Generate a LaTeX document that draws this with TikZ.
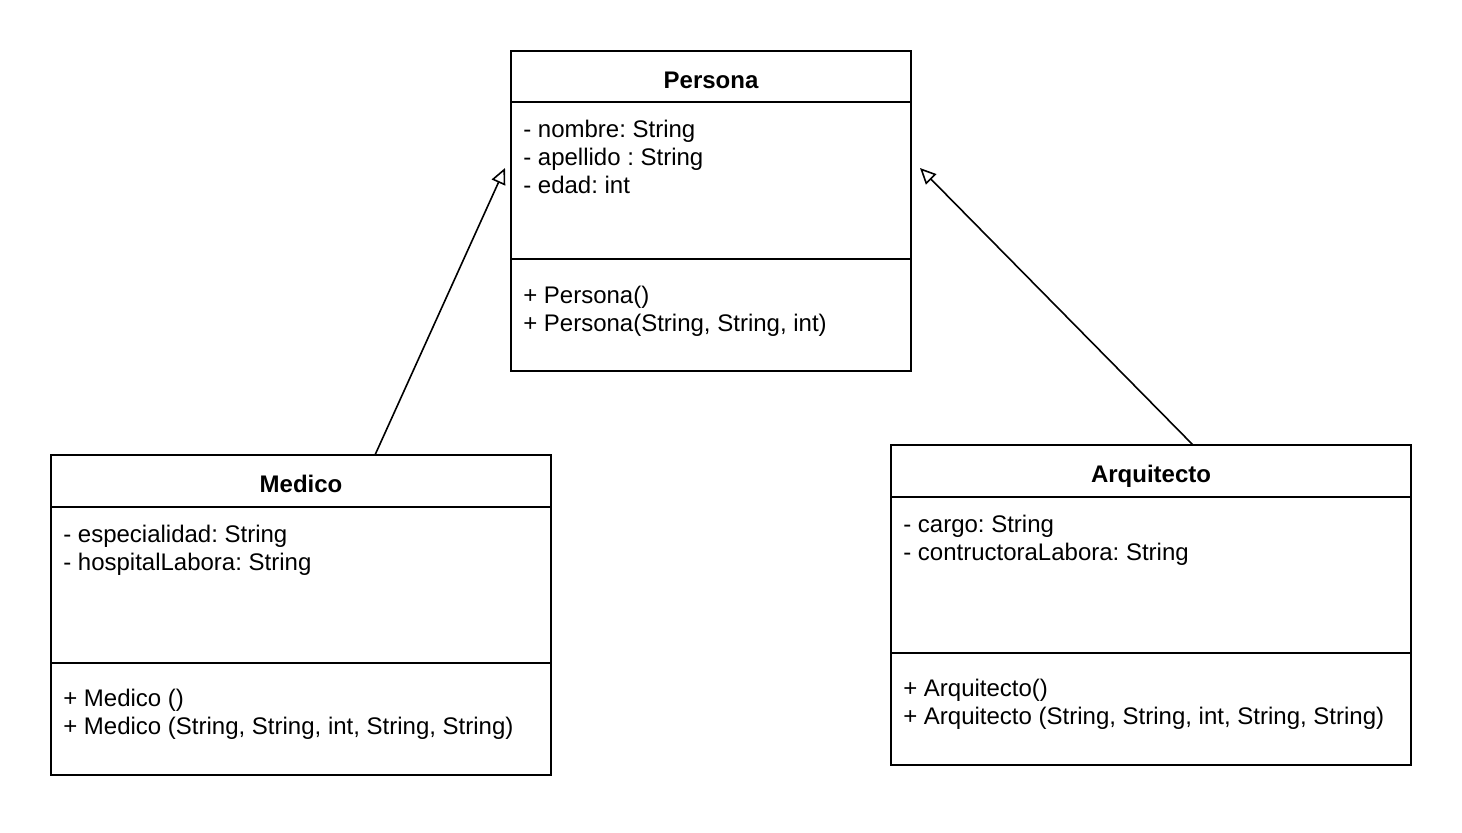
\documentclass[tikz,border=0pt]{standalone}
\usepackage{fontspec}
\setmainfont{Liberation Sans}
\usetikzlibrary{arrows.meta}
\frenchspacing
\begin{document}
\begin{tikzpicture}[x=0.75pt,y=-0.75pt,
  classbox/.style={draw=black, line width=1.4pt, fill=white, inner sep=0pt, outer sep=0pt, anchor=north west},
  sepline/.style={draw=black, line width=1.4pt},
  title/.style={font=\fontsize{18}{21}\selectfont\bfseries, anchor=base, inner sep=0pt},
  member/.style={font=\fontsize{18}{21}\selectfont, anchor=base west, inner sep=0pt},
  inherit/.style={draw=black, line width=1.2pt, -{Triangle[open, length=12pt, width=11pt, line width=1.2pt]}}
]
\useasboundingbox (0,0) rectangle (1462,832);
\fill[white] (0,0) rectangle (1462,832);

% Persona
\node[classbox, minimum width=300pt, minimum height=240pt] (persona) at (511,51) {};
\draw[sepline] (511,102) -- (911,102);
\draw[sepline] (511,259) -- (911,259);
\node[title] (pt) at (711,88.6) {Persona};
\node[member] (pa1) at (523,137.6) {- nombre: String};
\node[member] (pa2) at (523,165.6) {- apellido : String};
\node[member] (pa3) at (523,193.6) {- edad: int};
\node[member] (pm1) at (523,303.6) {+ Persona()};
\node[member] (pm2) at (523,331.6) {+ Persona(String, String, int)};

% Medico
\node[classbox, minimum width=375pt, minimum height=240pt] (medico) at (51,455) {};
\draw[sepline] (51,507) -- (551,507);
\draw[sepline] (51,663) -- (551,663);
\node[title] (mt) at (301,492.6) {Medico};
\node[member] (ma1) at (63,542.6) {- especialidad: String};
\node[member] (ma2) at (63,570.6) {- hospitalLabora: String};
\node[member] (mm1) at (63,706.6) {+ Medico ()};
\node[member] (mm2) at (63,734.6) {+ Medico (String, String, int, String, String)};

% Arquitecto
\node[classbox, minimum width=390pt, minimum height=240pt] (arq) at (891,445) {};
\draw[sepline] (891,497) -- (1411,497);
\draw[sepline] (891,653) -- (1411,653);
\node[title] (at) at (1151,482.6) {Arquitecto};
\node[member] (aa1) at (903,532.6) {- cargo: String};
\node[member] (aa2) at (903,560.6) {- contructoraLabora: String};
\node[member] (am1) at (903,696.6) {+ Arquitecto()};
\node[member] (am2) at (903,724.6) {+ Arquitecto (String, String, int, String, String)};

% connectors
\coordinate (mstart) at (375,455);
\coordinate (mend) at (505,168);
\coordinate (astart) at (1193,445);
\coordinate (aend) at (920,168);
\draw[inherit] (mstart) -- (mend);
\draw[inherit] (astart) -- (aend);
\end{tikzpicture}
\end{document}
